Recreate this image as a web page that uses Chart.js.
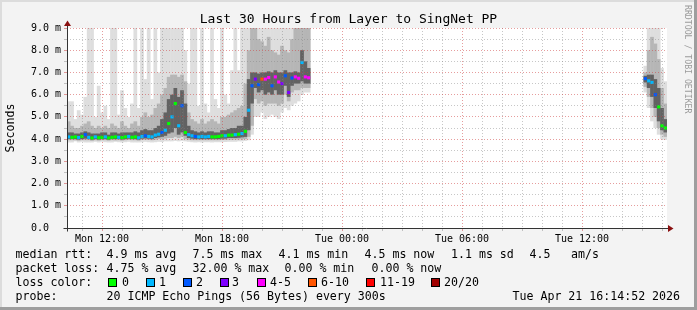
<!DOCTYPE html>
<html>
<head>
<meta charset="utf-8">
<title>Last 30 Hours from Layer to SingNet PP</title>
<script src="https://cdn.jsdelivr.net/npm/chart.js@4.4.1/dist/chart.umd.min.js"></script>
<style>
  html, body { margin: 0; padding: 0; background: #f3f3f3; }
  #wrap { position: relative; width: 697px; height: 310px; background: #f3f3f3; overflow: hidden;
          font-family: "DejaVu Sans Mono", monospace; color: #000; }
  #chart { position: absolute; left: 0; top: 0; }
  .txt { position: absolute; white-space: pre; font-size: 11.6px; line-height: 14px; }
  .box { position: absolute; width: 7px; height: 7px; border: 1px solid #000; }
  .edge { position: absolute; }
  #title { position: absolute; left: 0; top: 11px; width: 697px; text-align: center;
           font-size: 13px; line-height: 16px; white-space: pre; }
  #mark { position: absolute; left: 693px; top: 4.5px; transform: rotate(90deg); transform-origin: 0 0;
          font-size: 8.2px; line-height: 10px; color: #9a9a9a; white-space: pre; }
</style>
</head>
<body>
<div id="wrap">
  <canvas id="chart" width="697" height="310"></canvas>
  <div id="title">Last 30 Hours from Layer to SingNet PP</div>
  <div id="mark">RRDTOOL / TOBI OETIKER</div>
  <div id="legend"></div>
  <div class="edge" style="left:0;top:0;width:697px;height:2px;background:#dcdcdc"></div>
  <div class="edge" style="left:0;top:0;width:2px;height:310px;background:#dcdcdc"></div>
  <div class="edge" style="left:694px;top:0;width:3px;height:310px;background:#9e9e9e"></div>
  <div class="edge" style="left:0;top:307px;width:697px;height:3px;background:#9e9e9e"></div>
</div>
<script>
// ---------- time axis ----------
const startHour = 10 + 14 / 60 + 52 / 3600;   // Mon 10:14:52, hours since Mon 00:00
const spanHours = 30;
const binHours = 10 / 60;                       // one smoke column per 10 minutes
const tickHours = [12, 18, 24, 30, 36];
const tickLabels = ['Mon 12:00', 'Mon 18:00', 'Tue 00:00', 'Tue 06:00', 'Tue 12:00'];

// slots (10-minute columns since start) that contain data
const binSlots = [];
for (let s = 0; s <= 72; s++) binSlots.push(s);
for (let s = 173; s <= 179; s++) binSlots.push(s);

// ---------- series (ms) ----------
const medianRtt = [
  4.10,4.08,4.10,4.07,4.12,4.20,4.08,4.05,4.10,4.06,
  4.08,4.10,4.05,4.08,4.10,4.08,4.07,4.10,4.12,4.08,
  4.10,4.06,4.12,4.15,4.12,4.10,4.18,4.22,4.30,4.40,
  4.70,5.00,5.60,4.60,5.50,4.30,4.20,4.15,4.12,4.10,
  4.12,4.10,4.12,4.10,4.10,4.12,4.15,4.15,4.18,4.18,
  4.20,4.22,4.25,4.35,5.30,6.40,6.70,6.45,6.70,6.70,
  6.77,6.40,6.80,6.57,6.50,6.85,6.10,6.75,6.80,6.74,
  7.45,6.80,6.76,
  6.72,6.62,6.55,6.00,5.45,4.60,4.50
];
const lossCount = [
  1,0,0,1,0,2,1,0,1,0,
  0,1,0,0,0,1,0,0,1,0,
  0,1,1,2,1,1,1,1,2,1,
  0,1,0,1,2,0,1,1,2,1,
  1,1,1,0,0,0,0,1,0,0,
  1,0,1,0,1,2,3,2,7,4,
  4,2,4,4,3,2,3,2,4,4,
  1,4,4,
  2,1,1,2,0,0,0
];
const smokeMax = [
  5.7,5.7,4.9,5.3,5.1,5.9,9.5,9.5,5.0,6.4,
  5.2,5.5,4.9,9.5,9.5,5.1,6.2,5.4,5.0,5.6,
  9.5,5.4,9.5,6.7,9.5,5.8,9.5,7.0,9.5,9.5,
  9.5,9.5,9.5,9.0,9.5,8.0,6.5,9.5,9.5,5.5,
  9.5,5.6,5.2,9.5,5.8,5.4,9.5,6.0,5.6,7.1,
  9.5,7.1,9.5,9.5,9.5,9.5,9.5,9.5,9.5,9.5,
  9.5,9.5,9.5,9.5,9.5,9.5,9.5,9.5,9.5,9.5,
  9.5,9.5,9.5,
  7.3,9.5,9.5,9.5,9.5,7.2,6.6
];
const smokeHigh = [
  4.8,4.6,4.5,4.5,4.6,4.7,4.8,4.6,4.5,4.6,
  4.5,4.6,4.5,4.7,4.6,4.5,4.8,4.6,4.5,4.7,
  4.8,4.6,5.0,5.2,5.0,5.1,5.4,5.6,6.0,6.3,
  6.8,6.9,6.9,6.8,6.9,6.6,5.2,4.9,4.8,4.7,
  4.9,4.7,4.8,4.9,4.8,4.7,5.0,5.0,5.1,5.2,
  5.3,5.4,5.5,6.5,8.0,9.5,9.2,8.5,8.4,8.2,
  8.6,8.0,7.9,7.8,8.2,8.0,7.9,8.5,9.2,9.0,
  9.5,9.5,9.3,
  7.0,8.0,8.6,8.3,7.6,6.3,5.6
];
const smokeUpper = [
  4.30,4.30,4.25,4.25,4.30,4.35,4.30,4.25,4.25,4.25,
  4.30,4.30,4.20,4.30,4.30,4.25,4.30,4.30,4.30,4.30,
  4.35,4.30,4.40,4.45,4.40,4.40,4.50,4.60,4.90,5.20,
  5.80,6.00,6.30,5.90,6.20,5.60,4.60,4.40,4.35,4.30,
  4.35,4.30,4.35,4.35,4.30,4.30,4.40,4.40,4.45,4.50,
  4.50,4.60,4.60,5.00,6.70,7.00,7.00,6.95,7.00,7.00,
  7.05,7.00,7.10,7.00,7.00,7.10,7.00,7.00,7.05,7.00,
  8.00,7.50,7.20,
  6.85,6.90,6.90,6.70,6.30,5.40,4.90
];
const smokeLower = [
  4.00,4.00,4.00,3.98,4.00,4.02,4.00,3.98,4.00,3.98,
  4.00,4.00,3.98,4.00,4.00,4.00,3.98,4.00,4.02,4.00,
  4.00,3.98,4.02,4.03,4.02,4.00,4.05,4.08,4.10,4.15,
  4.25,4.30,4.50,4.20,4.30,4.15,4.05,4.02,4.00,4.00,
  4.00,4.00,4.00,4.00,4.00,4.00,4.02,4.02,4.05,4.05,
  4.05,4.06,4.08,4.10,4.40,5.60,6.30,6.10,6.20,6.00,
  6.10,6.00,6.20,6.00,6.00,6.40,5.90,6.40,6.50,6.50,
  6.60,6.50,6.50,
  6.55,6.30,5.90,5.40,4.80,4.40,4.30
];
const smokeLow = [
  3.95,3.95,3.95,3.93,3.95,3.95,3.95,3.92,3.95,3.93,
  3.95,3.95,3.93,3.95,3.94,3.95,3.93,3.95,3.96,3.95,
  3.95,3.93,3.96,3.97,3.96,3.95,3.97,4.00,4.00,4.02,
  4.05,4.05,4.10,4.05,4.10,4.00,3.97,3.95,3.95,3.95,
  3.95,3.95,3.95,3.95,3.95,3.95,3.96,3.96,3.97,3.97,
  3.98,3.98,4.00,4.00,4.10,4.60,5.80,5.60,5.70,5.50,
  5.60,5.60,5.60,5.50,5.60,6.00,5.70,6.10,6.20,6.20,
  6.30,6.30,6.30,
  6.35,5.90,5.40,5.00,4.50,4.20,4.10
];
const smokeMin = [
  3.85,3.85,3.90,3.85,3.88,3.85,3.85,3.85,3.88,3.85,
  3.88,3.86,3.85,3.85,3.88,3.86,3.85,3.86,3.88,3.85,
  3.85,3.85,3.86,3.88,3.86,3.85,3.86,3.88,3.87,3.90,
  3.90,3.90,3.92,3.90,3.92,3.90,3.88,3.86,3.85,3.86,
  3.85,3.86,3.86,3.85,3.86,3.86,3.86,3.87,3.88,3.88,
  3.88,3.90,3.90,3.92,3.95,4.20,5.00,5.00,5.20,4.90,
  5.00,5.10,5.00,4.90,5.20,5.40,5.30,5.50,5.60,5.70,
  6.00,6.10,6.10,
  6.10,5.40,4.80,4.50,4.20,4.00,3.96
];

// ---------- loss colour legend ----------
const lossFrom   = [0, 1, 2, 3, 4, 6, 11, 20];
const lossLabels = ['0', '1', '2', '3', '4-5', '6-10', '11-19', '20/20'];
const lossColors = ['#00ff00', '#00b8ff', '#0059ff', '#7e00ff', '#ff00ff', '#ff5500', '#ff0000', '#a10000'];

// ---------- legend texts ----------
const medianStats = ['4.9 ms avg', '7.5 ms max', '4.1 ms min', '4.5 ms now', '1.1 ms sd', '4.5', 'am/s'];
const lossStats = ['4.75 % avg', '32.00 % max', '0.00 % min', '0.00 % now'];
const probeText = '20 ICMP Echo Pings (56 Bytes) every 300s';
const stampText = 'Tue Apr 21 16:14:52 2026';

// ---------- layout for legend ----------
const rowTop = [247, 261, 275, 289];
const medianStatsX = [107, 193, 279, 365, 451.5, 530, 571.5];
const lossStatsX = [107, 193, 285, 372];
const lossBoxX = [108, 146, 183, 219.5, 257, 307.5, 366, 431];
const lossTextX = [122.5, 159.5, 196.5, 232.5, 270.5, 321.5, 380.5, 444.5];

function lossColor(n) {
  let k = 0;
  for (let i = 0; i < lossFrom.length; i++) if (n >= lossFrom[i]) k = i;
  return lossColors[k];
}

(function buildLegend() {
  const lg = document.getElementById('legend');
  const add = (x, y, text) => {
    const d = document.createElement('div');
    d.className = 'txt'; d.style.left = (x - 0.5) + 'px'; d.style.top = y + 'px';
    d.textContent = text; lg.appendChild(d);
  };
  add(16, rowTop[0], 'median rtt:');
  medianStats.forEach((t, i) => add(medianStatsX[i], rowTop[0], t));
  add(16, rowTop[1], 'packet loss:');
  lossStats.forEach((t, i) => add(lossStatsX[i], rowTop[1], t));
  add(16, rowTop[2], 'loss color:');
  lossLabels.forEach((t, i) => {
    const b = document.createElement('div');
    b.className = 'box'; b.style.left = lossBoxX[i] + 'px'; b.style.top = (rowTop[2] + 3) + 'px';
    b.style.background = lossColors[i]; lg.appendChild(b);
    add(lossTextX[i], rowTop[2], t);
  });
  add(16, rowTop[3], 'probe:');
  add(107, rowTop[3], probeText);
  add(513, rowTop[3], stampText);
})();

// ---------- chart ----------
const binTime = binSlots.map(s => startHour + (s + 0.5) * binHours);
const band = (lo, hi) => binTime.map((t, i) => ({ x: t, y: [lo[i], hi[i]] }));
const hourMarks = [];
for (let h = Math.ceil(startHour); h <= startHour + spanHours; h++) hourMarks.push(h);

const MAJOR = 'rgba(205,60,60,0.5)';
const MINOR = 'rgba(130,130,130,0.45)';

const framePlugin = {
  id: 'frame',
  beforeDraw(chart) {
    const { ctx, chartArea: a } = chart;
    ctx.save();
    ctx.fillStyle = '#ffffff';
    ctx.fillRect(a.left, a.top, a.right - a.left, a.bottom - a.top);
    ctx.restore();
  },
  afterDraw(chart) {
    const { ctx, chartArea: a } = chart;
    const L = Math.round(a.left) + 0.5, B = Math.round(a.bottom) + 0.5;
    ctx.save();
    ctx.strokeStyle = '#333333';
    ctx.lineWidth = 1;
    ctx.beginPath();
    ctx.moveTo(L - 4, B); ctx.lineTo(a.right + 3, B);
    ctx.moveTo(L, B + 3); ctx.lineTo(L, a.top - 4);
    ctx.stroke();
    ctx.fillStyle = '#8a1010';
    ctx.beginPath();
    ctx.moveTo(L, a.top - 7.5); ctx.lineTo(L - 3.5, a.top - 2); ctx.lineTo(L + 3.5, a.top - 2);
    ctx.closePath(); ctx.fill();
    ctx.beginPath();
    ctx.moveTo(a.right + 6.5, B); ctx.lineTo(a.right + 1, B - 3.5); ctx.lineTo(a.right + 1, B + 3.5);
    ctx.closePath(); ctx.fill();
    ctx.restore();
  }
};

Chart.defaults.font.family = '"DejaVu Sans Mono", monospace';

new Chart(document.getElementById('chart'), {
  type: 'bar',
  data: {
    datasets: [
      { type: 'line', label: 'median rtt', data: binTime.map((t, i) => ({ x: t, y: medianRtt[i] })),
        showLine: false, pointStyle: 'rect', pointRadius: 2.2, pointHoverRadius: 2.2,
        pointBorderWidth: 0, pointBackgroundColor: lossCount.map(lossColor), order: 0, clip: 0 },
      { label: 'smoke core', data: band(smokeLower, smokeUpper), backgroundColor: '#626262', order: 1 },
      { label: 'smoke mid', data: band(smokeLow, smokeHigh), backgroundColor: '#b6b6b6', order: 2 },
      { label: 'smoke all', data: band(smokeMin, smokeMax), backgroundColor: '#dedede', order: 3 }
    ]
  },
  options: {
    responsive: false,
    animation: false,
    devicePixelRatio: 1,
    events: [],
    layout: { padding: { left: 0, top: 28, right: 30, bottom: 62 } },
    plugins: { legend: { display: false }, tooltip: { enabled: false }, title: { display: false } },
    datasets: { bar: { grouped: false, barPercentage: 1.12, categoryPercentage: 1, borderWidth: 0, clip: 0 } },
    scales: {
      x: {
        type: 'linear', min: startHour, max: startHour + spanHours, offset: false,
        afterBuildTicks: s => { s.ticks = hourMarks.map(v => ({ value: v })); },
        afterFit: s => { s.height = 20; },
        grid: {
          offset: false, z: 1, lineWidth: 1, drawTicks: true, tickLength: 3,
          color: c => (c.tick && c.tick.value % 6 === 0) ? MAJOR : MINOR,
          tickColor: c => (c.tick && c.tick.value % 6 === 0) ? MAJOR : MINOR
        },
        border: { display: false, dash: [1, 2] },
        ticks: {
          autoSkip: false, maxRotation: 0, minRotation: 0, padding: 2, color: '#000',
          font: { size: 10 },
          callback: v => { const k = tickHours.indexOf(v); return k >= 0 ? tickLabels[k] : ''; }
        }
      },
      y: {
        type: 'linear', min: 0, max: 9,
        afterFit: s => { s.width = 67; },
        grid: {
          z: 1, lineWidth: 1, drawTicks: true, tickLength: 3,
          color: c => (c.tick && Number.isInteger(c.tick.value)) ? MAJOR : MINOR,
          tickColor: c => (c.tick && Number.isInteger(c.tick.value)) ? MAJOR : MINOR
        },
        border: { display: false, dash: [1, 2] },
        ticks: {
          stepSize: 0.5, autoSkip: false, padding: 3, color: '#000', font: { size: 10 },
          callback: v => v === 0 ? '0.0  ' : (Number.isInteger(v) ? v.toFixed(1) + ' m' : '')
        },
        title: { display: true, text: 'Seconds', color: '#000', font: { size: 11.6 }, padding: { top: 4, bottom: 0 } }
      }
    }
  },
  plugins: [framePlugin]
});
</script>
</body>
</html>
